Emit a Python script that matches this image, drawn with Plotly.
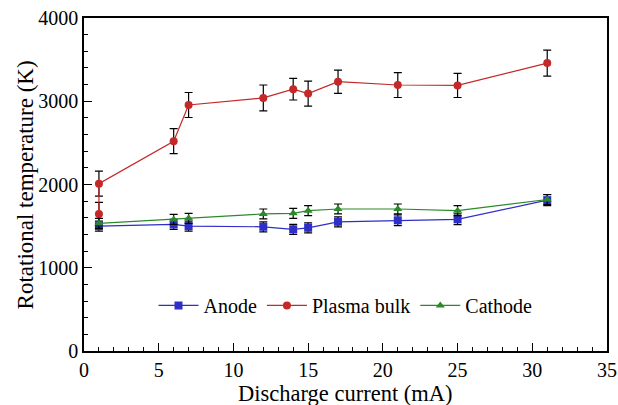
import plotly.graph_objects as go

# Discharge current (mA)
current = [1, 6, 7, 12, 14, 15, 17, 21, 25, 31]

# Rotational temperature (K) for each region
anode = [1500, 1520, 1500, 1492, 1462, 1480, 1552, 1570, 1582, 1812]
anode_err = [60, 60, 60, 60, 60, 60, 60, 65, 65, 65]

plasma_current = [1, 1] + current[1:]
plasma_bulk = [1645, 2010, 2520, 2955, 3040, 3145, 3092, 3235, 3195, 3190, 3458]
plasma_err = [140, 150, 150, 150, 155, 130, 150, 140, 150, 145, 155]

cathode = [1532, 1580, 1594, 1646, 1654, 1686, 1706, 1706, 1686, 1820]
cathode_err = [60, 60, 60, 60, 60, 60, 60, 60, 60, 60]

FONT = "Times New Roman"

fig = go.Figure()


def add_series(x, y, err, name, color, symbol):
    fig.add_trace(go.Scatter(
        x=x, y=y, name=name, mode="lines+markers",
        line=dict(color=color, width=1.2),
        marker=dict(color=color, symbol=symbol, size=8),
        error_y=dict(type="data", array=err, visible=True,
                     color="black", thickness=1.2, width=4),
    ))


add_series(current, anode, anode_err, "Anode", "#2e2ec8", "square")
add_series(plasma_current, plasma_bulk, plasma_err, "Plasma bulk", "#c42828", "circle")
add_series(current, cathode, cathode_err, "Cathode", "#2a8a2a", "triangle-up")

axis_common = dict(
    showline=True, linecolor="black", linewidth=1.5, mirror=True,
    ticks="inside", tickcolor="black", ticklen=8, tickwidth=1.2,
    showgrid=False, zeroline=False, automargin=False,
    tickfont=dict(family=FONT, size=20, color="black"),
)

fig.update_xaxes(
    range=[0, 35], dtick=5,
    minor=dict(dtick=1, ticks="inside", ticklen=4, tickcolor="black", tickwidth=1),
    **axis_common,
)
fig.update_yaxes(
    range=[0, 4000], dtick=1000,
    minor=dict(dtick=200, ticks="inside", ticklen=4, tickcolor="black", tickwidth=1),
    **axis_common,
)

# Axis titles placed as paper annotations
fig.add_annotation(
    text="Discharge current (mA)", xref="paper", yref="paper",
    x=0.5, y=-0.084, xanchor="center", yanchor="top", showarrow=False,
    font=dict(family=FONT, size=22.5, color="black"),
)
fig.add_annotation(
    text="Rotational temperature (K)", xref="paper", yref="paper",
    x=-0.111, y=0.5, xanchor="center", yanchor="middle", showarrow=False,
    textangle=-90, font=dict(family=FONT, size=23, color="black"),
)

fig.update_layout(
    width=618, height=405,
    margin=dict(l=84, r=11, t=18, b=54),
    paper_bgcolor="white", plot_bgcolor="white",
    font=dict(family=FONT, color="black"),
    legend=dict(
        orientation="h", x=0.5, xanchor="center", y=0.137, yanchor="middle",
        font=dict(family=FONT, size=20, color="black"),
        bgcolor="rgba(0,0,0,0)", itemwidth=40, tracegroupgap=0,
    ),
)

fig.write_html("out.html")
